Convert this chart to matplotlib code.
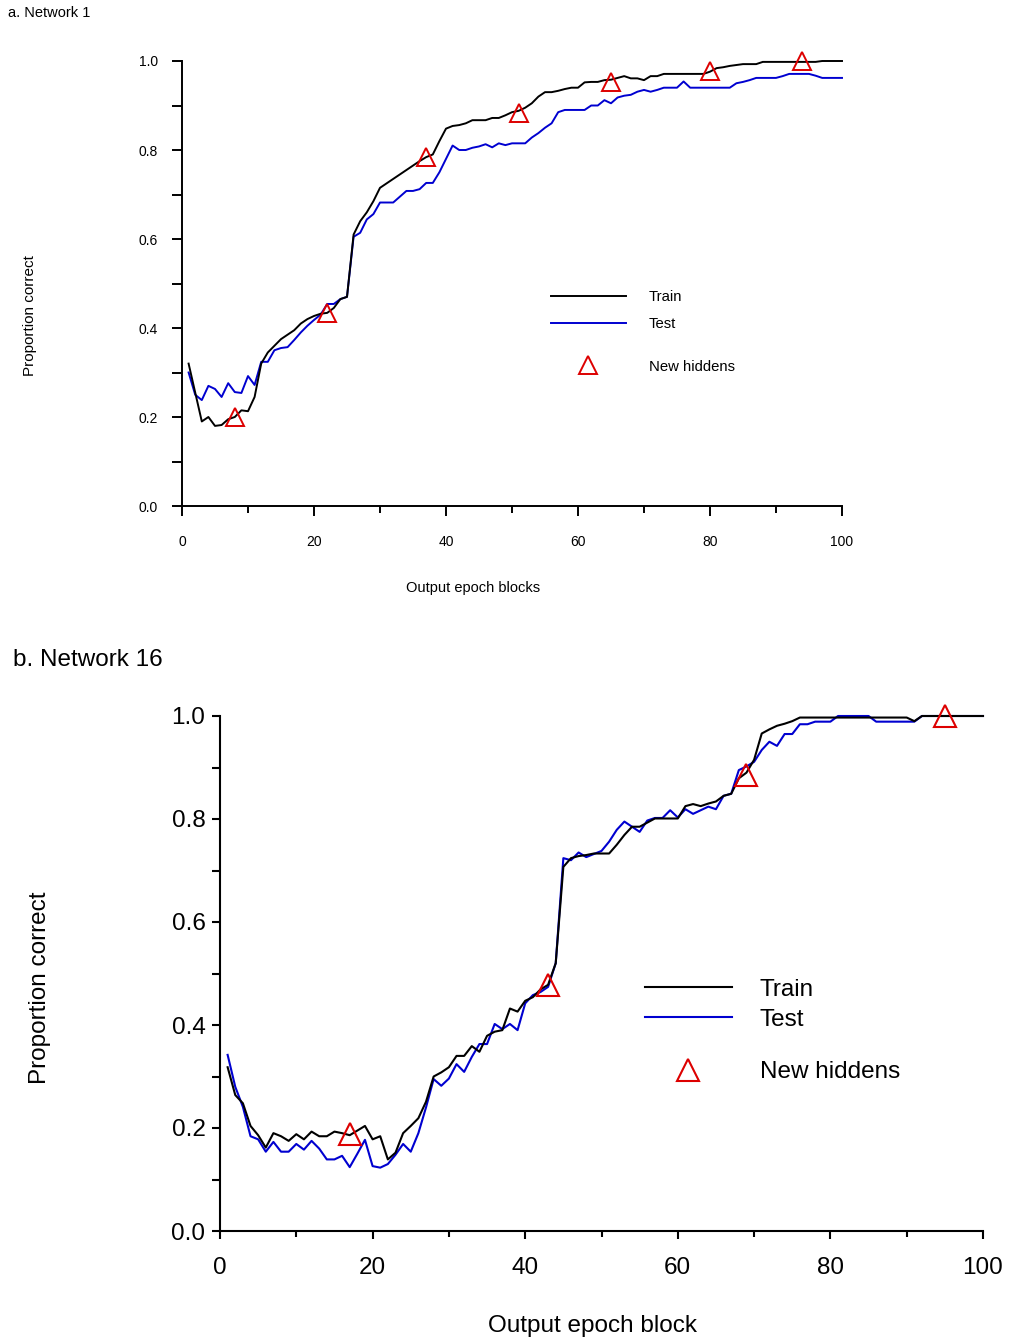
import matplotlib

matplotlib.use("Agg")
import matplotlib.pyplot as plt
import numpy as np
from matplotlib.lines import Line2D
from matplotlib.ticker import MultipleLocator

plt.rcParams["font.family"] = ["Liberation Sans", "DejaVu Sans"]

# ---- panel a: Network 1 ----
a_blocks = np.arange(1, 101)
a_train = [
    0.32, 0.255, 0.19, 0.20, 0.18, 0.182, 0.195, 0.20, 0.215, 0.213,
    0.245, 0.32, 0.345, 0.36, 0.375, 0.385, 0.395, 0.41, 0.42, 0.427,
    0.432, 0.434, 0.445, 0.465, 0.47, 0.61, 0.64, 0.66, 0.685, 0.715,
    0.725, 0.735, 0.745, 0.755, 0.765, 0.775, 0.784, 0.79, 0.82, 0.848,
    0.854, 0.856, 0.86, 0.867, 0.867, 0.867, 0.872, 0.872, 0.878, 0.885,
    0.888, 0.895, 0.905, 0.92, 0.93, 0.93, 0.933, 0.937, 0.94, 0.94,
    0.952, 0.953, 0.953, 0.957, 0.958, 0.962, 0.966, 0.961, 0.961, 0.957,
    0.966, 0.966, 0.971, 0.971, 0.971, 0.971, 0.971, 0.971, 0.971, 0.976,
    0.984, 0.986, 0.989, 0.991, 0.993, 0.993, 0.993, 0.998, 0.998, 0.998,
    0.998, 0.998, 0.998, 0.998, 0.998, 0.998, 1.0, 1.0, 1.0, 1.0,
]
a_test = [
    0.30, 0.25, 0.238, 0.27, 0.263, 0.245, 0.276, 0.256, 0.254, 0.292,
    0.272, 0.324, 0.324, 0.35, 0.355, 0.357, 0.373, 0.39, 0.405, 0.418,
    0.43, 0.454, 0.454, 0.465, 0.47, 0.605, 0.614, 0.644, 0.656, 0.682,
    0.682, 0.682, 0.695, 0.708, 0.708, 0.712, 0.726, 0.726, 0.75, 0.78,
    0.81, 0.80, 0.80, 0.805, 0.808, 0.813, 0.806, 0.815, 0.811, 0.815,
    0.815, 0.815, 0.828, 0.838, 0.85, 0.86, 0.885, 0.89, 0.89, 0.89,
    0.89, 0.90, 0.90, 0.912, 0.905, 0.918, 0.922, 0.924, 0.931, 0.935,
    0.931, 0.935, 0.94, 0.94, 0.94, 0.954, 0.94, 0.94, 0.94, 0.94,
    0.94, 0.94, 0.94, 0.95, 0.953, 0.957, 0.962, 0.962, 0.962, 0.962,
    0.966, 0.971, 0.971, 0.971, 0.971, 0.967, 0.962, 0.962, 0.962, 0.962,
]
a_new_x = [8, 22, 37, 51, 65, 80, 94]
a_new_y = [0.20, 0.434, 0.784, 0.884, 0.953, 0.978, 1.0]

# ---- panel b: Network 16 ----
b_blocks = np.arange(1, 101)
b_train = [
    0.318, 0.264, 0.248, 0.204, 0.186, 0.162, 0.19, 0.184, 0.175, 0.188,
    0.178, 0.193, 0.184, 0.184, 0.193, 0.19, 0.186, 0.195, 0.204, 0.178,
    0.184, 0.139, 0.152, 0.19, 0.204, 0.219, 0.251, 0.30, 0.308, 0.318,
    0.34, 0.34, 0.359, 0.348, 0.379, 0.387, 0.39, 0.432, 0.426, 0.447,
    0.454, 0.469, 0.478, 0.52, 0.707, 0.724, 0.728, 0.73, 0.733, 0.733,
    0.733, 0.75, 0.769, 0.785, 0.785, 0.793, 0.801, 0.801, 0.801, 0.801,
    0.825, 0.829, 0.825, 0.83, 0.834, 0.845, 0.849, 0.879, 0.89, 0.915,
    0.966, 0.974, 0.981, 0.985, 0.99, 0.997, 0.997, 0.997, 0.997, 0.997,
    0.997, 0.997, 0.997, 0.997, 0.997, 0.997, 0.997, 0.997, 0.997, 0.997,
    0.99, 1.0, 1.0, 1.0, 1.0, 1.0, 1.0, 1.0, 1.0, 1.0,
]
b_test = [
    0.342, 0.28, 0.241, 0.184, 0.178, 0.154, 0.173, 0.154, 0.154, 0.169,
    0.158, 0.175, 0.16, 0.139, 0.139, 0.146, 0.124, 0.15, 0.177, 0.126,
    0.123, 0.13, 0.148, 0.169, 0.154, 0.19, 0.24, 0.295, 0.282, 0.296,
    0.324, 0.309, 0.338, 0.363, 0.363, 0.402, 0.392, 0.402, 0.39, 0.442,
    0.458, 0.464, 0.474, 0.52, 0.724, 0.72, 0.735, 0.726, 0.732, 0.738,
    0.756, 0.779, 0.795, 0.785, 0.775, 0.797, 0.802, 0.802, 0.817, 0.803,
    0.819, 0.81, 0.817, 0.824, 0.819, 0.845, 0.849, 0.895, 0.902, 0.911,
    0.934, 0.95, 0.942, 0.965, 0.965, 0.984, 0.984, 0.989, 0.989, 0.989,
    1.0, 1.0, 1.0, 1.0, 1.0, 0.989, 0.989, 0.989, 0.989, 0.989,
    0.989, 1.0, 1.0, 1.0, 1.0, 1.0, 1.0, 1.0, 1.0, 1.0,
]
b_new_x = [17, 43, 69, 95]
b_new_y = [0.189, 0.478, 0.886, 1.0]

TRAIN_COLOR = "#000000"
TEST_COLOR = "#0000d0"
NEW_COLOR = "#dd0000"


def draw_panel(ax, blocks, train, test, new_x, new_y, fs, tick_fs, lw, ms, tick_len, ypad, xpad,
               handlelength, handletextpad, labelspacing, leg_x, leg_y1, leg_y2):
    ax.plot(blocks, train, color=TRAIN_COLOR, lw=lw, clip_on=False, zorder=3)
    ax.plot(blocks, test, color=TEST_COLOR, lw=lw, clip_on=False, zorder=2)
    ax.plot(new_x, new_y, linestyle="none", marker="^", ms=ms, mfc="none",
            mec=NEW_COLOR, mew=lw, clip_on=False, zorder=4)

    ax.set_xlim(0, 100)
    ax.set_ylim(0, 1.0)
    ax.xaxis.set_major_locator(MultipleLocator(20))
    ax.xaxis.set_minor_locator(MultipleLocator(10))
    ax.yaxis.set_major_locator(MultipleLocator(0.2))
    ax.yaxis.set_minor_locator(MultipleLocator(0.1))
    ax.yaxis.set_major_formatter(lambda v, p: f"{v:.1f}")
    for side in ("top", "right"):
        ax.spines[side].set_visible(False)
    for side in ("left", "bottom"):
        ax.spines[side].set_linewidth(lw)
    ax.tick_params(axis="both", which="both", direction="out", width=lw, labelsize=tick_fs)
    ax.tick_params(axis="both", which="major", length=tick_len)
    ax.tick_params(axis="x", which="minor", length=tick_len * 0.7)
    ax.tick_params(axis="y", which="minor", length=tick_len)
    ax.tick_params(axis="y", which="major", pad=ypad)
    ax.tick_params(axis="x", which="major", pad=xpad)

    h_train = Line2D([], [], color=TRAIN_COLOR, lw=lw)
    h_test = Line2D([], [], color=TEST_COLOR, lw=lw)
    h_new = Line2D([], [], linestyle="none", marker="^", ms=ms, mfc="none",
                   mec=NEW_COLOR, mew=lw)
    leg1 = ax.legend([h_train, h_test], ["Train", "Test"], loc="upper left",
                     bbox_to_anchor=(leg_x, leg_y1), frameon=False, fontsize=fs,
                     handlelength=handlelength, handletextpad=handletextpad,
                     labelspacing=labelspacing, borderpad=0, borderaxespad=0)
    ax.add_artist(leg1)
    ax.legend([h_new], ["New hiddens"], loc="upper left",
              bbox_to_anchor=(leg_x, leg_y2), frameon=False, fontsize=fs,
              handlelength=handlelength, handletextpad=handletextpad,
              borderpad=0, borderaxespad=0)


W, H = 1009, 1341
fig = plt.figure(figsize=(W / 100, H / 100), dpi=100)

ax_a = fig.add_axes([182 / W, 1 - 506 / H, 660 / W, 445 / H])
draw_panel(ax_a, a_blocks, a_train, a_test, a_new_x, a_new_y,
           fs=10.7, tick_fs=10, lw=1.4, ms=13, tick_len=7, ypad=10.5, xpad=14,
           handlelength=5.05, handletextpad=1.55, labelspacing=0.85,
           leg_x=0.559, leg_y1=0.485, leg_y2=0.329)
fig.text(8 / W, 1 - 13 / H, "a. Network 1", fontsize=10.5, ha="left", va="center")
fig.text(30 / W, 1 - 316 / H, "Proportion correct", fontsize=11, rotation=90,
         ha="center", va="center")
fig.text(473 / W, 1 - 588 / H, "Output epoch blocks", fontsize=10.5, ha="center", va="center")

ax_b = fig.add_axes([220 / W, 1 - 1231 / H, 763 / W, 515 / H])
draw_panel(ax_b, b_blocks, b_train, b_test, b_new_x, b_new_y,
           fs=17.5, tick_fs=17.5, lw=1.5, ms=16.5, tick_len=6, ypad=4.5, xpad=13,
           handlelength=3.58, handletextpad=1.15, labelspacing=0.33,
           leg_x=0.557, leg_y1=0.49, leg_y2=0.33)
fig.text(13 / W, 1 - 660 / H, "b. Network 16", fontsize=17.5, ha="left", va="center")
fig.text(40 / W, 1 - 988 / H, "Proportion correct", fontsize=17.5, rotation=90,
         ha="center", va="center")
fig.text(592 / W, 1 - 1326 / H, "Output epoch block", fontsize=17.5, ha="center", va="center")

fig.savefig("out.png", dpi=100)
